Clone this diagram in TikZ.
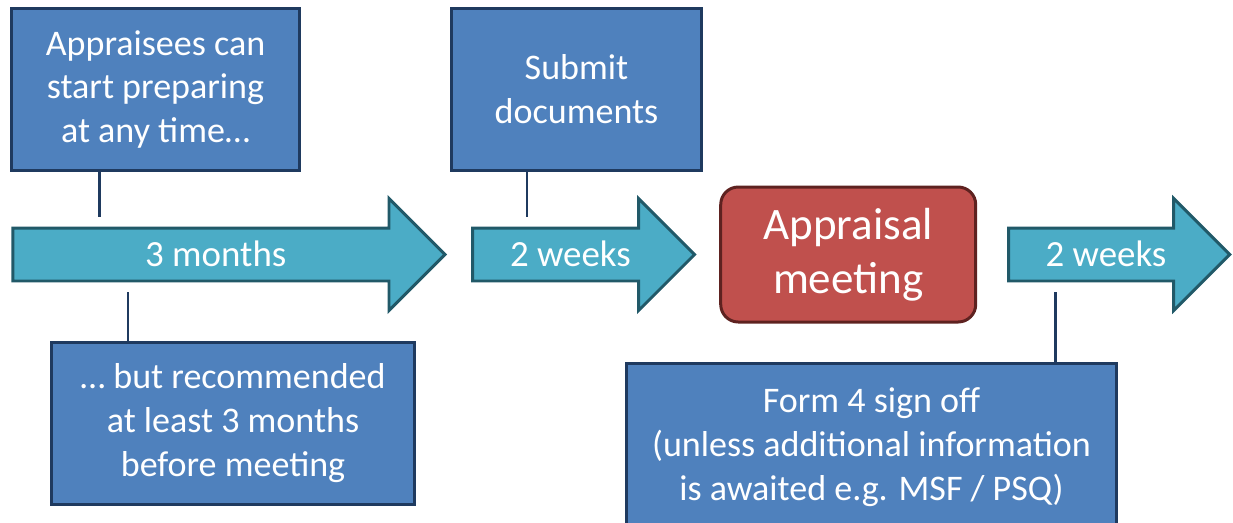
\documentclass[tikz,border=0pt]{standalone}
\usepackage{fontspec}
\setmainfont{Carlito}
\usetikzlibrary{positioning, shapes.arrows}
\definecolor{BoxBlue}{HTML}{4F81BD}
\definecolor{BoxNavy}{HTML}{1F3A5F}
\definecolor{SpanAqua}{HTML}{4BACC6}
\definecolor{SpanTeal}{HTML}{215968}
\definecolor{MeetRed}{HTML}{C0504D}
\definecolor{MeetDark}{HTML}{5E2220}

\begin{document}
\begin{tikzpicture}[
  infobox/.style={rectangle, draw=BoxNavy, fill=BoxBlue, line width=1.7pt,
    text=white, align=center, font=\fontsize{20.5}{25}\selectfont,
    minimum height=3.24cm, inner sep=0pt},
  meetbox/.style={rectangle, rounded corners=10pt, draw=MeetDark, fill=MeetRed,
    line width=1.7pt, text=white, align=center, font=\fontsize{25.6}{31}\selectfont,
    minimum width=5.1cm, minimum height=2.7cm},
  period/.style={single arrow, draw=SpanTeal, fill=SpanAqua, line width=1.7pt,
    text=white, font=\fontsize{21}{25}\selectfont, single arrow head extend=0.59cm,
    text height=0.74cm, text depth=0.26cm, inner ysep=0pt, inner xsep=0pt, anchor=tail},
  link/.style={draw=BoxNavy, line width=1.7pt}
]
  \useasboundingbox (0,0) rectangle (24.66,-10.44);

  \node[period, minimum height=8.64cm] (mon) at (0.23,-5.09) {3 months};
  \node[period, minimum height=4.44cm] (wk1) at ([xshift=0.48cm]mon.tip) {2 weeks};
  \node[meetbox, right=0.45cm of wk1.tip] (meet) {Appraisal\\meeting};
  \node[period, minimum height=4.42cm, right=0.6cm of meet.east] (wk2) {2 weeks};

  \node[infobox, minimum width=5.76cm] (prep) at (3.11,-1.79)
    {Appraisees can\\start preparing\\at any time\dots};
  \node[infobox, minimum width=5.0cm, right=2.98cm of prep] (subm) {Submit\\documents};
  \node[infobox, minimum width=7.26cm] (recm) at (4.66,-8.47)
    {\dots\ but recommended\\at least 3 months\\before meeting};
  \node[infobox, minimum width=9.8cm, minimum height=3.34cm] (sign) at (17.43,-8.94)
    {Form 4 sign off\\(unless additional information\\is awaited e.g. MSF / PSQ)};

  \coordinate (prepend) at ([xshift=-1.12cm, yshift=-0.9cm]prep.south);
  \coordinate (submend) at ([xshift=-0.99cm, yshift=-0.9cm]subm.south);
  \coordinate (recmend) at ([xshift=-2.1cm, yshift=0.98cm]recm.north);
  \coordinate (signend) at ([xshift=3.67cm, yshift=1.4cm]sign.north);

  \draw[link] (prep.south -| prepend) -- (prepend);
  \draw[link] (subm.south -| submend) -- (submend);
  \draw[link] (recm.north -| recmend) -- (recmend);
  \draw[link] (sign.north -| signend) -- (signend);
\end{tikzpicture}
\end{document}
